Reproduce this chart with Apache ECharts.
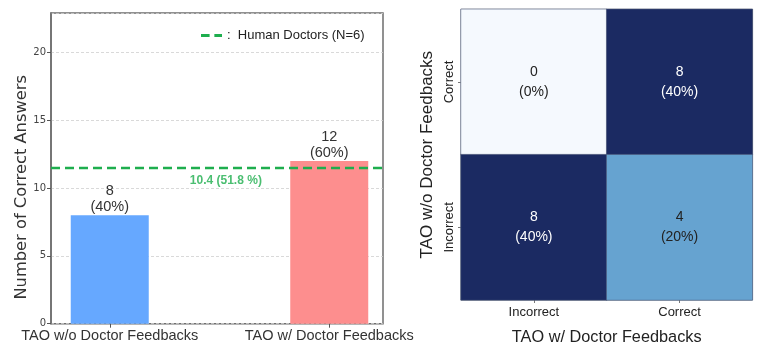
<!DOCTYPE html>
<html><head><meta charset="utf-8">
<script src="https://cdn.jsdelivr.net/npm/echarts@6/dist/echarts.min.js"></script>
<style>html,body{margin:0;padding:0;background:#fff}#c{width:767px;height:359px}</style>
</head><body><div id="c"></div>
<script>
// ---- data ----
const barCategories = ['TAO w/o Doctor Feedbacks', 'TAO w/ Doctor Feedbacks'];
const barValues = [8, 12];
const barPercents = ['40%', '60%'];
const barColors = ['#66a8ff', '#fd8e8e'];
const humanLineValue = 11.47;
const humanLabelText = '10.4 (51.8 %)';
const humanLabelX = 0.54;
const humanLegend = ':  Human Doctors (N=6)';
const yMax = 22.9;
const yInterval = 5;
const cmXCategories = ['Incorrect', 'Correct'];
const cmYCategories = ['Incorrect', 'Correct'];
const cmCells = [[0, 1, 0], [1, 1, 8], [0, 0, 8], [1, 0, 4]];
const cmTotal = 20;

const GREEN = '#1eae4e';
const SANS = 'Liberation Sans';

const chart = echarts.init(document.getElementById('c'), null, {renderer: 'canvas'});
const option = {
  backgroundColor: '#fff',
  animation: false,
  grid: [
    {left: 51, top: 13, width: 332, height: 310.7, show: true, borderColor: '#6e6e6e', borderWidth: 1.5, containLabel: false},
    {left: -5, top: 13, width: 444, height: 310.7, containLabel: false},
    {left: 461, top: 9.3, width: 291.4, height: 290.7, show: true, borderColor: '#8a8a8a', borderWidth: 1, containLabel: false}
  ],
  legend: {
    data: [{name: humanLegend, icon: 'path://M0,0h9v3h-9z M14,0h8v3h-8z'}],
    left: 196, top: 24, itemWidth: 21, itemHeight: 3, itemGap: 4,
    itemStyle: {color: GREEN},
    textStyle: {fontSize: 13, color: '#222', fontFamily: SANS}
  },
  visualMap: {show: false, min: 0, max: 8, seriesIndex: 3, inRange: {color: ['#f5f9fe', '#66a3d0', '#1b2a62']}},
  xAxis: [
    {gridIndex: 0, type: 'value', min: -0.25, max: 1.25, show: false},
    {gridIndex: 1, type: 'category', data: barCategories,
      axisLine: {show: false},
      axisTick: {show: true, alignWithLabel: true, length: 4, lineStyle: {color: '#555'}},
      axisLabel: {fontSize: 14.5, color: '#333', margin: 5, fontFamily: SANS, interval: 0, showMinLabel: true, showMaxLabel: true, hideOverlap: false}},
    {gridIndex: 2, type: 'category', data: cmXCategories,
      axisLine: {show: false},
      axisTick: {show: true, alignWithLabel: true, length: 3, lineStyle: {color: '#777'}},
      axisLabel: {fontSize: 13, color: '#222', margin: 6, fontFamily: SANS},
      name: 'TAO w/ Doctor Feedbacks', nameLocation: 'middle', nameGap: 30,
      nameTextStyle: {fontSize: 16.3, color: '#222', fontFamily: SANS}}
  ],
  yAxis: [
    {gridIndex: 0, type: 'value', min: 0, max: yMax, interval: yInterval,
      axisLine: {show: true, onZero: false, lineStyle: {color: '#6e6e6e', width: 1.5}},
      axisTick: {show: true, length: 4, lineStyle: {color: '#555'}},
      axisLabel: {fontSize: 10, color: '#444', margin: 5, fontFamily: 'DejaVu Sans', showMaxLabel: false},
      splitLine: {show: true, lineStyle: {color: '#cfcfcf', type: [3, 2], width: 0.8}},
      name: 'Number of Correct Answers', nameLocation: 'middle', nameGap: 21,
      nameTextStyle: {fontSize: 16.3, color: '#333', fontFamily: 'DejaVu Sans', padding: [0, 38, 0, 0]}},
    {gridIndex: 1, type: 'value', min: 0, max: yMax, show: false},
    {gridIndex: 2, type: 'category', data: cmYCategories,
      axisLine: {show: false},
      axisTick: {show: true, alignWithLabel: true, length: 3, lineStyle: {color: '#777'}},
      axisLabel: {fontSize: 13, color: '#222', margin: 5, rotate: 90, fontFamily: SANS},
      name: 'TAO w/o Doctor Feedbacks', nameLocation: 'middle', nameGap: 25,
      nameTextStyle: {fontSize: 17, color: '#222', fontFamily: SANS}}
  ],
  series: [
    {type: 'bar', xAxisIndex: 1, yAxisIndex: 1, barWidth: 78, z: 2,
      data: barValues.map((v, i) => ({value: v, itemStyle: {color: barColors[i]}})),
      label: {show: true, position: 'top', distance: 0, fontSize: 14.5, lineHeight: 16, color: '#333', fontFamily: SANS,
        formatter: p => p.value + '\n(' + barPercents[p.dataIndex] + ')'}},
    {type: 'line', name: humanLegend, xAxisIndex: 0, yAxisIndex: 0, z: 5, symbol: 'none',
      data: [[-0.25, humanLineValue], [1.26, humanLineValue]],
      lineStyle: {color: GREEN, width: 2.5, type: [9, 5]}, itemStyle: {color: GREEN}},
    {type: 'scatter', xAxisIndex: 0, yAxisIndex: 0, z: 6, symbolSize: 0, silent: true,
      data: [[humanLabelX, humanLineValue]],
      label: {show: true, position: 'bottom', distance: 7, formatter: humanLabelText,
        fontSize: 12, fontWeight: 'bold', color: GREEN, fontFamily: SANS}},
    {type: 'heatmap', xAxisIndex: 2, yAxisIndex: 2,
      data: cmCells.map(c => ({value: c, label: {color: c[2] >= 6 ? '#fff' : '#222'}})),
      itemStyle: {borderColor: '#4c5878', borderWidth: 0.6},
      label: {show: true, fontSize: 14, lineHeight: 20, fontFamily: SANS,
        formatter: p => p.value[2] + '\n(' + Math.round(p.value[2] / cmTotal * 100) + '%)'}}
  ]
};
chart.setOption(option);
</script>
</body></html>
